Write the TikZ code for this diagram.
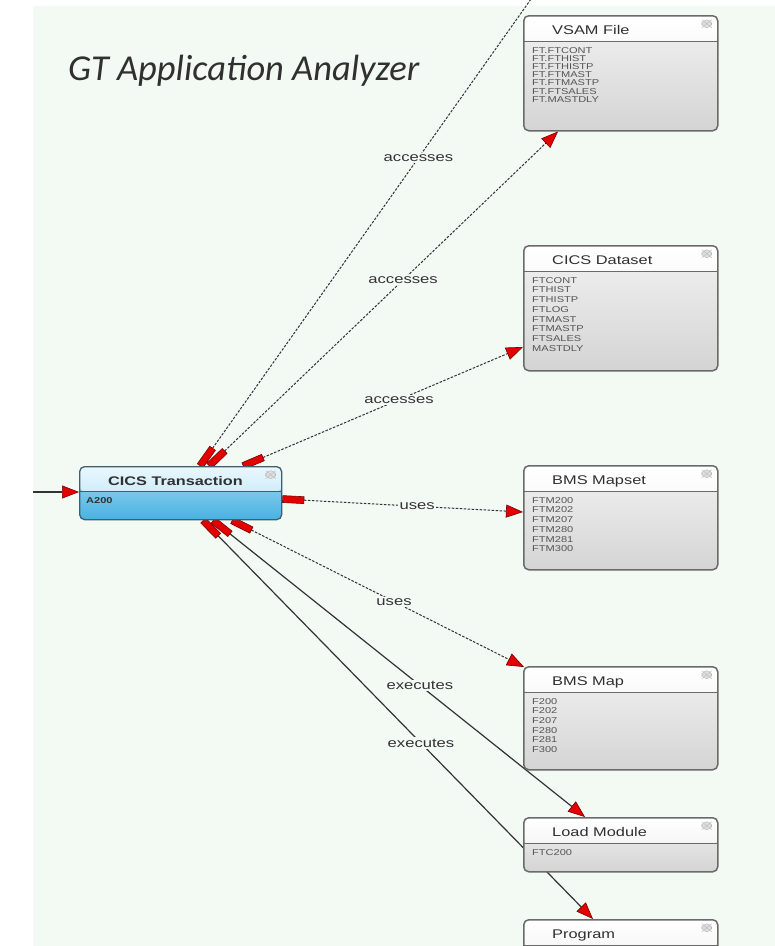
\documentclass[tikz,border=0pt]{standalone}
\usepackage{fontspec}
\setmainfont{Liberation Sans}
\newfontfamily\wide[FakeStretch=1.3]{Liberation Sans}
\newfontfamily\gtfont{Carlito}
\usetikzlibrary{arrows.meta,calc}
\pgfdeclarelayer{bglayer}
\pgfdeclarelayer{edgelayer}
\pgfsetlayers{bglayer,edgelayer,main}
\definecolor{bggreen}{HTML}{F3F9F3}
\definecolor{boxline}{HTML}{6A6A6A}
\definecolor{hdrbot}{HTML}{ECECEC}
\definecolor{bodytop}{HTML}{F2F2F2}
\definecolor{bodybot}{HTML}{D4D4D4}
\definecolor{txhdrtop}{HTML}{EAF7FD}
\definecolor{txhdrbot}{HTML}{B3E1F5}
\definecolor{txbodytop}{HTML}{A5DAF2}
\definecolor{txbodybot}{HTML}{48B2E2}
\definecolor{txline}{HTML}{3F5E6E}
\definecolor{arrred}{HTML}{E30000}
\definecolor{arrdark}{HTML}{7A0000}
\definecolor{edgecol}{HTML}{333333}
\definecolor{titlecol}{HTML}{303030}
\definecolor{itemcol}{HTML}{555555}
\definecolor{iconfill}{HTML}{DEDEDE}
\definecolor{iconline}{HTML}{B8B8B8}
\tikzset{
  boxicon/.style={iconline, fill=iconfill, line width=0.4pt},
  entity/.style={draw=boxline, line width=1.5pt, rounded corners=5pt, anchor=north west,
    inner sep=0pt, minimum width=194pt, top color=bodytop, bottom color=bodybot,
    path picture={
      \shade[top color=white, bottom color=hdrbot] (path picture bounding box.north west) rectangle ($(path picture bounding box.north east)+(0,26)$);
      \draw[boxline, line width=1.2pt] ($(path picture bounding box.north west)+(0,26)$) -- ($(path picture bounding box.north east)+(0,26)$);
      \draw[boxicon] ($(path picture bounding box.north east)+(-16,4)$) rectangle ($(path picture bounding box.north east)+(-6,12)$);
      \draw[iconline, line width=0.4pt] ($(path picture bounding box.north east)+(-16,4)$) -- ($(path picture bounding box.north east)+(-6,12)$)
        ($(path picture bounding box.north east)+(-16,12)$) -- ($(path picture bounding box.north east)+(-6,4)$);
    }},
  txentity/.style={draw=txline, line width=1.3pt, rounded corners=5pt, anchor=north west,
    inner sep=0pt, minimum width=202pt, minimum height=53pt, top color=txbodytop, bottom color=txbodybot,
    path picture={
      \shade[top color=txhdrtop, bottom color=txhdrbot] (path picture bounding box.north west) rectangle ($(path picture bounding box.north east)+(0,25)$);
      \draw[txline, line width=1.1pt] ($(path picture bounding box.north west)+(0,25)$) -- ($(path picture bounding box.north east)+(0,25)$);
      \draw[boxicon] ($(path picture bounding box.north east)+(-16,4)$) rectangle ($(path picture bounding box.north east)+(-6,12)$);
      \draw[iconline, line width=0.4pt] ($(path picture bounding box.north east)+(-16,4)$) -- ($(path picture bounding box.north east)+(-6,12)$)
        ($(path picture bounding box.north east)+(-16,12)$) -- ($(path picture bounding box.north east)+(-6,4)$);
    }},
  boxtitle/.style={anchor=base west, inner sep=0pt, text=titlecol, font=\wide\fontsize{12.6}{14}\selectfont},
  txtitle/.style={anchor=base west, inner sep=0pt, text=titlecol, font=\wide\bfseries\fontsize{12.5}{14}\selectfont},
  boxitems/.style={anchor=north west, inner sep=0pt, align=left, text=itemcol},
  lbl/.style={fill=bggreen, inner sep=1.5pt, text=edgecol, font=\wide\fontsize{12.8}{14}\selectfont},
  dashedge/.style={draw=edgecol, line width=1pt, dash pattern=on 2.5pt off 1.5pt},
  solidedge/.style={draw=edgecol, line width=1.2pt},
  tailhead/.style={arrows={Rectangle[length=22pt,width=7.5pt,fill=arrred,color=arrdark,line width=0.6pt]-Triangle[length=17pt,width=13pt,fill=arrred,color=arrdark,line width=0.6pt]}},
  tailonly/.style={arrows={Rectangle[length=22pt,width=7.5pt,fill=arrred,color=arrdark,line width=0.6pt]-}},
  headonly/.style={arrows={-Triangle[length=17pt,width=13pt,fill=arrred,color=arrdark,line width=0.6pt]}},
}
\begin{document}
\begin{tikzpicture}[x=1pt,y=-1pt]
\useasboundingbox (0,0) rectangle (775,946);
\begin{pgfonlayer}{bglayer}
  \fill[white] (0,0) rectangle (775,946);
  \fill[bggreen] (33,6) rectangle (775,946);
\end{pgfonlayer}

\node[anchor=base west, inner sep=0pt, text=titlecol, font=\gtfont\itshape\fontsize{36.5}{42}\selectfont] (gt) at (68,80) {GT Application Analyzer};

% boxes
\node[entity, minimum height=115pt] (vsam) at (523,15) {};
\node[boxtitle] (vsamT) at ($(vsam.north west)+(29,19.5)$) {VSAM File};
\node[boxitems, font=\wide\fontsize{8.5}{8.2}\selectfont] (vsamI) at ($(vsam.north west)+(9,32)$)
  {FT.FTCONT\\FT.FTHIST\\FT.FTHISTP\\FT.FTMAST\\FT.FTMASTP\\FT.FTSALES\\FT.MASTDLY};

\node[entity, minimum height=125pt] (dset) at (523,245) {};
\node[boxtitle] (dsetT) at ($(dset.north west)+(29,19.5)$) {CICS Dataset};
\node[boxitems, font=\wide\fontsize{8.5}{9.75}\selectfont] (dsetI) at ($(dset.north west)+(9,32)$)
  {FTCONT\\FTHIST\\FTHISTP\\FTLOG\\FTMAST\\FTMASTP\\FTSALES\\MASTDLY};

\node[entity, minimum height=104pt] (mapset) at (523,465) {};
\node[boxtitle] (mapsetT) at ($(mapset.north west)+(29,19.5)$) {BMS Mapset};
\node[boxitems, font=\wide\fontsize{8.5}{9.75}\selectfont] (mapsetI) at ($(mapset.north west)+(9,32)$)
  {FTM200\\FTM202\\FTM207\\FTM280\\FTM281\\FTM300};

\node[entity, minimum height=103pt] (bmsmap) at (523,666) {};
\node[boxtitle] (bmsmapT) at ($(bmsmap.north west)+(29,19.5)$) {BMS Map};
\node[boxitems, font=\wide\fontsize{8.5}{9.7}\selectfont] (bmsmapI) at ($(bmsmap.north west)+(9,32)$)
  {F200\\F202\\F207\\F280\\F281\\F300};

\node[entity, minimum height=54pt] (loadm) at (523,817) {};
\node[boxtitle] (loadmT) at ($(loadm.north west)+(29,19)$) {Load Module};
\node[boxitems, font=\wide\fontsize{8.5}{9.7}\selectfont] (loadmI) at ($(loadm.north west)+(9,32)$) {FTC200};

\node[entity, minimum height=70pt] (prog) at (523,919) {};
\node[boxtitle] (progT) at ($(prog.north west)+(29,19)$) {Program};

\node[txentity] (trans) at (79,466) {};
\node[txtitle] (transT) at ($(trans.north west)+(29,19)$) {CICS Transaction};
\node[boxitems, text=black!80, font=\wide\bfseries\fontsize{8.5}{9.7}\selectfont] (transI) at ($(trans.north west)+(7,31)$) {A200};

% connectors
\coordinate (src) at (33,492);
\coordinate (offtop) at (536,-8);
\begin{pgfonlayer}{edgelayer}
  \draw[solidedge, headonly] (src) -- (trans.west |- src);
  \draw[dashedge, tailonly] ($(trans.north west)+(121,0)$) -- (offtop) node[lbl, pos=0.65] (l1) {accesses};
  \draw[dashedge, tailhead] ($(trans.north west)+(130,0)$) -- ($(vsam.south west)+(35,0)$) node[lbl, pos=0.556] (l2) {accesses};
  \draw[dashedge, tailhead] ($(trans.north west)+(164,0)$) -- ($(dset.north west)+(0,102)$) node[lbl, pos=0.557] (l3) {accesses};
  \draw[dashedge, tailhead] ($(trans.north east)+(0,33)$) -- ($(mapset.north west)+(0,47)$) node[lbl, pos=0.56] (l4) {uses};
  \draw[dashedge, tailhead] ($(trans.south west)+(153,0)$) -- ($(bmsmap.north west)+(1,1)$) node[lbl, pos=0.555] (l5) {uses};
  \draw[solidedge, tailhead] ($(trans.south west)+(134,0)$) -- ($(loadm.north west)+(62,0)$) node[lbl, pos=0.556] (l6) {executes};
  \draw[solidedge, tailhead] ($(trans.south west)+(124,0)$) -- ($(prog.north west)+(70,0)$) node[lbl, pos=0.559] (l7) {executes};
\end{pgfonlayer}
\end{tikzpicture}
\end{document}
